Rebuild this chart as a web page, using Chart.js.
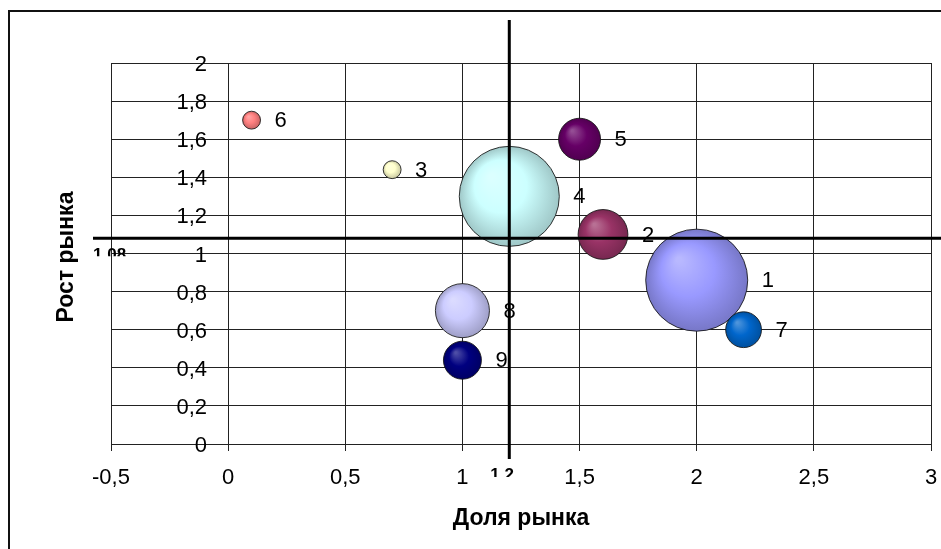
<!DOCTYPE html>
<html>
<head>
<meta charset="utf-8">
<script src="https://cdn.jsdelivr.net/npm/chart.js@4.4.0/dist/chart.umd.min.js"></script>
<style>
  html, body { margin: 0; padding: 0; background: #fff; overflow: hidden; }
  #wrap { width: 941px; height: 549px; position: relative; }
</style>
</head>
<body>
<div id="wrap"><canvas id="bcg" width="941" height="549"></canvas></div>
<script>
// BCG matrix data
const labels = ["1", "2", "3", "4", "5", "6", "7", "8", "9"];
const share  = [2.0, 1.6, 0.7, 1.2, 1.5, 0.1, 2.2, 1.0, 1.0];
const growth = [0.86, 1.10, 1.44, 1.30, 1.60, 1.70, 0.60, 0.70, 0.44];
const volume = [26, 6.2, 0.8, 25, 4.4, 0.8, 3.2, 7.3, 3.6];
const xTicks = ["-0,5", "0", "0,5", "1", "1,5", "2", "2,5", "3"];
const yTicks = ["0", "0,2", "0,4", "0,6", "0,8", "1", "1,2", "1,4", "1,6", "1,8", "2"];
const avgShare = 1.2;
const avgGrowth = 1.08;

const colors = ["#9999FF", "#993366", "#FFFFCC", "#CCFFFF", "#660066", "#FF8080", "#0066CC", "#CCCCFF", "#000080"];
const FONT = 'Arial, "Liberation Sans", sans-serif';
const maxVol = Math.max(...volume);
const radiusOf = v => 51 * Math.sqrt(v / maxVol);

const shade = (hex, f) => {
    const n = parseInt(hex.slice(1), 16);
    const m = c => f >= 0 ? Math.round(c + (255 - c) * f) : Math.round(c * (1 + f));
    return `rgb(${m(n >> 16)},${m((n >> 8) & 255)},${m(n & 255)})`;
};

const ballFill = (c) => {
    if(c.dataIndex === undefined || !c.raw)
        return colors[0];

    const base = colors[c.dataIndex];
    const xs = c.chart.scales.x, ys = c.chart.scales.y;
    if(!xs || !ys) return base;

    const cx = xs.getPixelForValue(c.raw.x), cy = ys.getPixelForValue(c.raw.y);
    if(!isFinite(cx) || !isFinite(cy)) return base;

    const r = radiusOf(c.raw.v);
    const g = c.chart.ctx.createRadialGradient(cx - r * 0.35, cy - r * 0.4, r * 0.05, cx, cy, r);
    g.addColorStop(0, shade(base, 0.3));
    g.addColorStop(0.5, base);
    g.addColorStop(1, shade(base, -0.22));
    return g;
};

const overlay = {
    id: "overlay",
    afterDatasetsDraw(chart) {
        const {ctx, scales: {x, y}} = chart;
        const px = x.getPixelForValue(avgShare), py = y.getPixelForValue(avgGrowth);

        ctx.save();
        ctx.strokeStyle = "#000";
        ctx.lineWidth = 3;
        ctx.beginPath();
        ctx.moveTo(px, 20);
        ctx.lineTo(px, 459);
        ctx.moveTo(93, py);
        ctx.lineTo(chart.width, py);
        ctx.stroke();

        // clipped value labels of the dividing lines
        ctx.font = "bold 17px " + FONT;
        ctx.fillStyle = "#000";
        ctx.textBaseline = "top";
        ctx.textAlign = "left";
        ctx.save();
        ctx.beginPath();
        ctx.rect(0, py + 8, 200, 10);
        ctx.clip();
        ctx.fillText(String(avgGrowth).replace(".", ","), 93, py + 9);
        ctx.restore();
        ctx.save();
        ctx.beginPath();
        ctx.rect(px - 30, 466, 60, 11);
        ctx.clip();
        ctx.fillText(String(avgShare).replace(".", ","), px - 19, 467);
        ctx.restore();

        // bubble labels
        const meta = chart.getDatasetMeta(0);
        ctx.font = "22px " + FONT;
        ctx.textBaseline = "middle";
        meta.data.forEach((el, i) => {
            ctx.fillText(labels[i], el.x + el.options.radius + 14, el.y + 1);
        });
        ctx.restore();
    },
    afterDraw(chart) {
        const {ctx} = chart;
        ctx.save();
        ctx.strokeStyle = "#111";
        ctx.lineWidth = 2;
        ctx.strokeRect(9, 11, 2000, 2000);

        ctx.fillStyle = "#000";
        ctx.font = "bold 23px " + FONT;
        ctx.textAlign = "center";
        ctx.textBaseline = "alphabetic";
        ctx.fillText("Доля рынка", 521, 525);
        ctx.translate(73, 257);
        ctx.rotate(-Math.PI / 2);
        ctx.fillText("Рост рынка", 0, 0);
        ctx.restore();
    }
};

const points = share.map((s, i) => ({x: s, y: growth[i], v: volume[i]}));

new Chart(document.getElementById("bcg"), {
    type: "bubble",
    data: {
        datasets: [{
            data: points,
            radius: c => c.raw ? radiusOf(c.raw.v) : 5,
            backgroundColor: ballFill,
            borderColor: "rgba(20,20,20,0.85)",
            borderWidth: 1
        }]
    },
    options: {
        responsive: false,
        animation: false,
        events: [],
        layout: {autoPadding: false, padding: {left: 111, right: 10, top: 63, bottom: 0}},
        plugins: {legend: {display: false}, tooltip: {enabled: false}},
        scales: {
            x: {
                type: "linear",
                min: -0.5,
                max: 3,
                afterFit: s => {
                    s.height = 105;
                    s.paddingLeft = 0;
                    s.paddingRight = 0;
                },
                ticks: {
                    stepSize: 0.5,
                    autoSkip: false,
                    maxRotation: 0,
                    padding: 14,
                    color: "#000",
                    font: {family: FONT, size: 22},
                    callback: (v, i) => xTicks[i]
                },
                grid: {color: "#222", lineWidth: 1, tickLength: 7},
                border: {color: "#222"}
            },
            y: {
                type: "linear",
                min: 0,
                max: 2,
                // labels sit just left of the x = 0 gridline, inside the plot
                position: {x: -0.09},
                afterFit: s => { s.width = 0; },
                ticks: {
                    stepSize: 0.2,
                    autoSkip: false,
                    padding: 0,
                    labelOffset: 2,
                    color: "#000",
                    font: {family: FONT, size: 22},
                    callback: (v, i) => yTicks[i]
                },
                grid: {color: "#222", lineWidth: 1, drawTicks: false},
                border: {display: false}
            }
        }
    },
    plugins: [overlay]
});
</script>
</body>
</html>
